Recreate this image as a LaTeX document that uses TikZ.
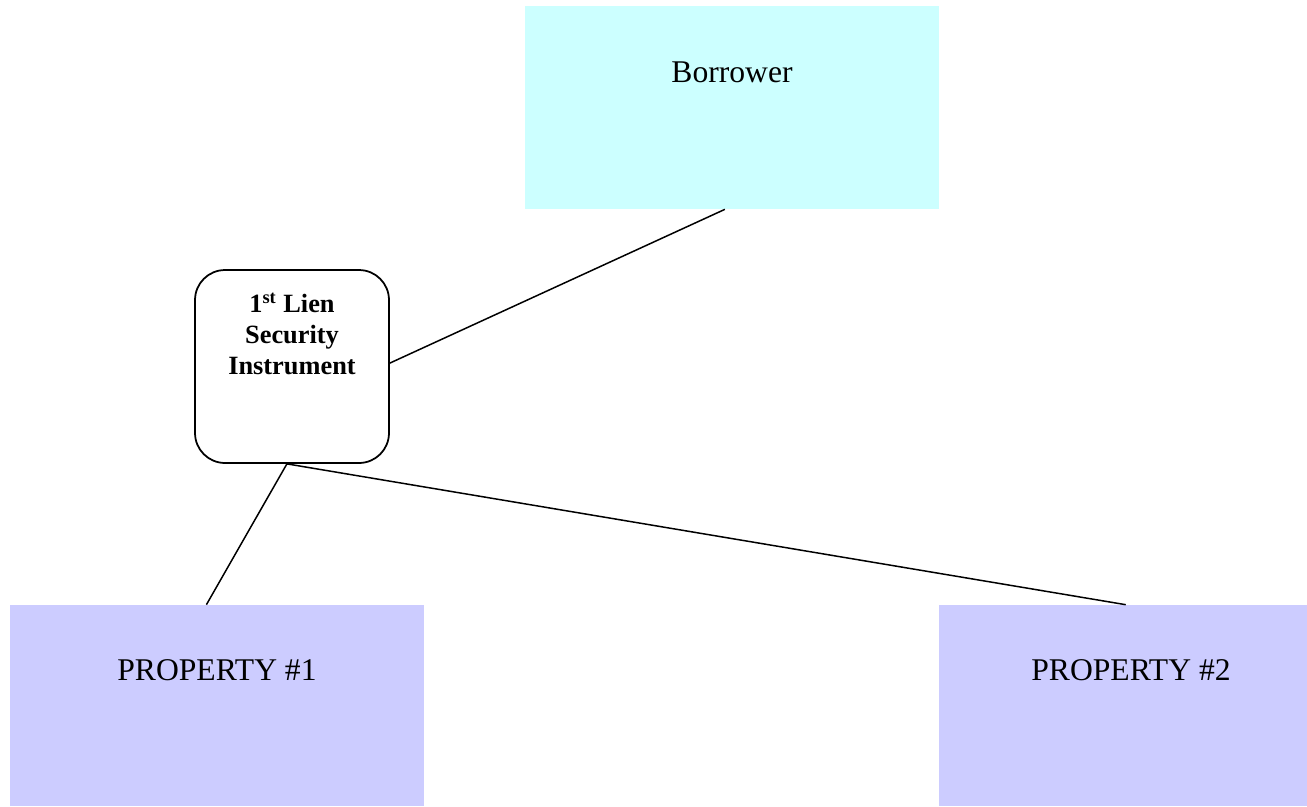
\documentclass[tikz,border=0pt]{standalone}
\usepackage{fontspec}
\setmainfont{Liberation Serif}
\usepackage{tikz}
\usetikzlibrary{positioning}
\definecolor{borrowercyan}{HTML}{CCFFFF}
\definecolor{propertyblue}{HTML}{CCCCFF}
\begin{document}
\begin{tikzpicture}[x=0.02cm,y=-0.02cm,
		party/.style={fill=borrowercyan,draw=none,inner sep=0pt,minimum width=8.28cm,
			font=\fontsize{18}{21}\selectfont,text height=1.52cm,text depth=2.54cm},
		property/.style={fill=propertyblue,draw=none,inner sep=0pt,
			font=\fontsize{18}{21}\selectfont,text height=1.5cm,text depth=2.52cm},
		lien/.style={draw,line width=1pt,rounded corners=0.6cm,minimum width=3.88cm,minimum height=3.86cm},
		link/.style={line width=0.85pt}]
				\useasboundingbox (0,0) rectangle (1307,806);
				\node[party] (borrower) at (732,107.5) {Borrower};
				\node[property,minimum width=8.28cm] (p1) at (217,705.5) {PROPERTY \#1};
				\node[property,minimum width=7.68cm] (p2) at (1131,705.5) {PROPERTY \#2};
				\node[lien] (sec) at (292,366.5) {};
				\node[anchor=north,inner sep=0pt,align=center,font=\bfseries\fontsize{15}{17.5}\selectfont]
					(sectext) at (292,293) {1\textsuperscript{st} Lien\\Security\\Instrument};
				\draw[link] (borrower.266.7) -- (sec.2)
					  (sec.267) -- (p1.96)
					  (sec.267) -- (p2.93.4);
			\end{tikzpicture}
\end{document}
